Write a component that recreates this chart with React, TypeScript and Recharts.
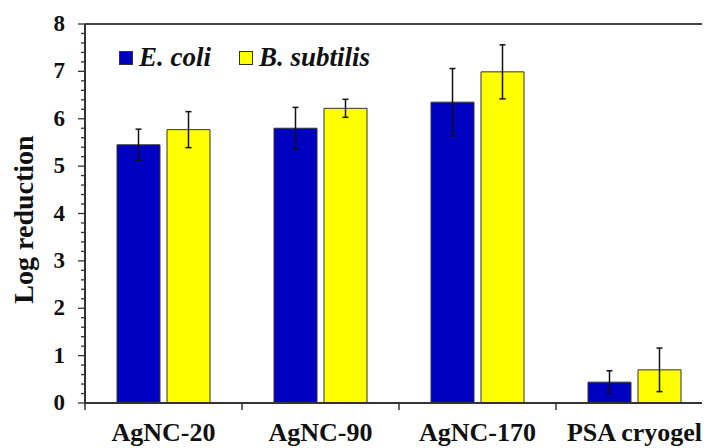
import { Bar, BarChart, ErrorBar, Legend, ReferenceLine, XAxis, YAxis } from 'recharts';

const categories = ['AgNC-20', 'AgNC-90', 'AgNC-170', 'PSA cryogel'];
const seriesNames = ['E. coli', 'B. subtilis'];
const eColi = [5.45, 5.8, 6.35, 0.44];
const eColiErr = [0.33, 0.44, 0.71, 0.24];
const bSubtilis = [5.77, 6.22, 6.99, 0.7];
const bSubtilisErr = [0.38, 0.19, 0.57, 0.46];
const yLabels = [0, 1, 2, 3, 4, 5, 6, 7, 8];
const yMinorStep = 0.2;

// the body keeps its 8px margin, so the chart starts at (8, 8) on the page
const WIDTH = 702;
const HEIGHT = 440;
const Y_AXIS_W = 77;
const MARGIN = { top: 16, right: -3, bottom: 0, left: 0 };
const BAND = (WIDTH - Y_AXIS_W - MARGIN.left - MARGIN.right) / categories.length;
const FONT = '"Liberation Serif", "Times New Roman", Times, serif';
const AXIS = '#333';

const data = categories.map((name, i) => ({
  name,
  eColi: eColi[i],
  eColiErr: eColiErr[i],
  bSubtilis: bSubtilis[i],
  bSubtilisErr: bSubtilisErr[i]
}));

// every 0.2 gets a tick, only whole numbers get a label
const yTicks: number[] = [];
for (let i = 0; i <= yLabels[yLabels.length - 1] / yMinorStep; i++) yTicks.push(+(i * yMinorStep).toFixed(1));

const YTick = ({ x, y, payload }: any) => {
  const v = payload.value;
  const major = yLabels.includes(v);
  return (
    <g>
      <line x1={x} x2={x - (major ? 7 : 4)} y1={y} y2={y} stroke={AXIS} strokeWidth={1.3} />
      {major && (
        <text x={x - 20} y={y} dy={7} textAnchor="end" fontSize={23} fontWeight="bold" fill="#111" style={{ fontFamily: FONT }}>
          {v}
        </text>
      )}
    </g>
  );
};

const XTick = ({ x, y, payload, index }: any) => (
  <g>
    <line x1={x - BAND / 2} x2={x - BAND / 2} y1={y} y2={y + 7} stroke={AXIS} strokeWidth={1.5} />
    {index === categories.length - 1 && (
      <line x1={x + BAND / 2} x2={x + BAND / 2} y1={y} y2={y + 7} stroke={AXIS} strokeWidth={1.5} />
    )}
    <text x={x} y={y + 38} textAnchor="middle" fontSize={26} fontWeight="bold" fill="#111" style={{ fontFamily: FONT }}>
      {payload.value}
    </text>
  </g>
);

const YLabel = ({ viewBox }: any) => {
  const cx = 25;
  const cy = viewBox.y + viewBox.height / 2 + 6;
  return (
    <text
      x={cx}
      y={cy}
      transform={`rotate(-90, ${cx}, ${cy})`}
      textAnchor="middle"
      fontSize={28}
      fontWeight="bold"
      fill="#111"
      style={{ fontFamily: FONT }}
    >
      Log reduction
    </text>
  );
};

const renderLegend = ({ payload }: any) => {
  const items = [...(payload || [])].sort((a: any, b: any) => seriesNames.indexOf(a.value) - seriesNames.indexOf(b.value));
  return (
    <div style={{ display: 'flex', alignItems: 'center', fontFamily: FONT, fontSize: 27, fontWeight: 'bold', fontStyle: 'italic', lineHeight: 1 }}>
      {items.map((entry: any) => (
        <div key={entry.value} style={{ display: 'flex', alignItems: 'center', marginRight: 28 }}>
          <span
            style={{
              display: 'inline-block',
              width: 14,
              height: 14,
              background: entry.color,
              border: '1px solid #333',
              boxSizing: 'border-box',
              marginRight: 6
            }}
          />
          <span style={{ color: '#111' }}>{entry.value}</span>
        </div>
      ))}
    </div>
  );
};

export default function App() {
  return (
    <div style={{ width: WIDTH, height: HEIGHT, fontFamily: FONT }}>
      <BarChart width={WIDTH} height={HEIGHT} data={data} margin={MARGIN} barSize={43} barGap={7}>
        <XAxis
          dataKey="name"
          height={45}
          interval={0}
          tickSize={0}
          tickMargin={0}
          tickLine={false}
          tick={XTick}
          axisLine={{ stroke: AXIS, strokeWidth: 2 }}
        />
        <YAxis
          width={Y_AXIS_W}
          domain={[0, 8]}
          ticks={yTicks}
          interval={0}
          tickSize={0}
          tickMargin={0}
          tickLine={false}
          tick={YTick}
          axisLine={{ stroke: AXIS, strokeWidth: 2 }}
          label={{ content: YLabel }}
        />
        <ReferenceLine y={8} stroke="#444" strokeWidth={2} />
        <Legend
          verticalAlign="middle"
          align="center"
          content={renderLegend}
          wrapperStyle={{ top: 36, left: 111, width: 'auto' }}
        />
        <Bar dataKey="eColi" name={seriesNames[0]} fill="#0000C0" stroke="#333" strokeWidth={1} isAnimationActive={false}>
          <ErrorBar dataKey="eColiErr" width={3} stroke="#111" strokeWidth={1.5} />
        </Bar>
        <Bar dataKey="bSubtilis" name={seriesNames[1]} fill="#FFFF00" stroke="#333" strokeWidth={1} isAnimationActive={false}>
          <ErrorBar dataKey="bSubtilisErr" width={3} stroke="#111" strokeWidth={1.5} />
        </Bar>
      </BarChart>
    </div>
  );
}
